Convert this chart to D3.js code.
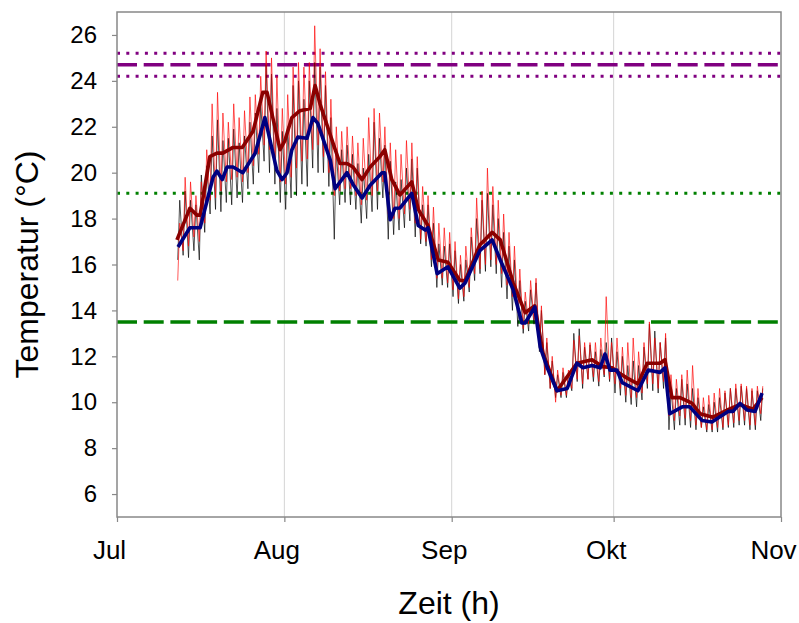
<!DOCTYPE html>
<html><head><meta charset="utf-8">
<script src="https://cdn.jsdelivr.net/npm/d3@7"></script>
<style>
body{margin:0;background:#fff;}
text{font-family:Arial,"Liberation Sans",sans-serif;fill:#000;}
</style>
</head><body>
<svg id="c" width="799" height="623"></svg>
<script>
// ---------------- data (days counted from 1 July) ----------------
const monthLabels = ["Jul","Aug","Sep","Okt","Nov"];
const monthOffsets = [0, 31, 62, 92, 123];
const yTicks = [6,8,10,12,14,16,18,20,22,24,26];

// thick blue line (mean of black series)
const blueDays = [11.3,13.5,15.4,17.8,18.5,19.5,20.4,21.5,23.3,25.6,27.4,29.6,30.6,31.5,32.4,33.5,35.2,36.3,37.2,39.5,40.4,42.6,43.7,45.4,46.9,49.1,49.6,50.6,51.5,52.4,54.6,55.8,57.1,57.6,59.3,61.3,63.5,64.5,67.2,69.5,71.0,73.4,75.0,75.6,77.4,78.4,79.7,81.5,83.4,85.2,86.3,88.0,89.5,90.4,91.3,92.6,93.6,96.5,98.4,100.6,101.5,102.4,104.7,106.1,108.4,110.2,113.2,114.1,115.4,116.7,118.2,119.5];
const blueVals = [16.76,17.6,17.6,19.8,20.07,19.7,20.25,20.25,20.0,20.85,22.4,20.1,19.7,20.0,21.0,21.55,21.5,22.4,22.15,20.55,19.3,20.0,19.5,18.9,19.45,20.0,20.0,17.95,18.45,18.46,19.1,17.7,17.5,17.6,15.6,15.9,14.97,15.2,16.6,17.07,16.2,14.9,13.45,13.45,14.15,12.4,11.5,10.5,10.6,11.7,11.5,11.6,11.5,12.1,11.4,11.4,10.85,10.5,11.4,11.3,11.5,9.5,9.8,9.8,9.2,9.14,9.6,9.6,9.95,9.66,9.6,10.4];

// thick dark red line (mean of red series)
const redDays = [11.1,13.5,14.8,15.4,17.2,18.5,19.6,21.5,23.2,25.2,27.0,27.8,30.2,31.1,32.4,33.9,35.8,36.7,37.6,40.0,41.3,42.6,43.7,45.4,46.9,48.7,49.6,50.9,52.4,54.6,55.8,57.6,59.5,61.3,63.5,64.5,67.2,69.5,71.0,73.4,75.6,77.4,78.9,81.5,85.2,88.0,90.0,91.7,92.8,94.5,96.5,98.2,100.6,101.5,102.8,104.3,106.5,108.0,110.4,113.0,115.4,117.8,119.5];
const redVals = [17.07,18.45,18.15,18.15,20.7,20.85,20.85,21.1,21.1,21.8,23.5,23.5,21.0,21.4,22.4,22.7,22.8,23.8,23.0,21.3,20.4,20.4,20.25,19.7,20.25,20.7,21.0,19.7,19.03,19.6,18.4,17.7,16.2,16.1,15.3,15.3,16.85,17.4,17.07,15.2,13.9,14.2,12.15,10.5,11.7,11.85,11.55,11.5,11.3,11.05,10.8,11.7,11.7,11.85,10.2,10.2,9.96,9.5,9.35,9.66,9.9,9.7,10.2];

// thin hourly series, daily maxima / minima from day 11 (12 July) to day 119
const firstDay = 11;
const blackMax = [18.8,19.2,18.8,18.6,19.9,20.3,21.6,22.3,21.4,21.5,21.9,21.3,21.6,22.2,22.6,23.0,24.7,24.3,22.8,21.8,22.0,23.8,24.0,23.2,24.0,24.8,24.6,23.8,22.4,21.0,21.0,21.2,20.8,20.4,20.2,20.8,22.2,21.5,21.2,20.5,19.6,19.7,20.2,20.6,20.2,18.6,18.6,17.8,16.9,16.8,16.9,16.6,16.0,16.2,17.2,18.0,18.8,19.1,18.6,18.0,17.4,16.8,16.2,15.3,14.4,14.9,15.2,14.0,12.6,11.8,11.2,11.3,11.2,13.0,13.2,12.4,12.5,12.2,12.3,12.6,12.8,12.2,12.0,11.6,11.8,11.6,12.4,13.4,13.1,12.6,12.8,10.6,10.6,11.0,10.8,10.6,10.2,9.8,9.9,10.0,10.2,10.4,10.6,10.6,10.7,10.6,10.5,10.5,10.6];
const blackMin = [16.2,16.4,16.3,16.6,16.2,17.4,18.2,18.4,18.3,18.7,18.6,18.9,18.7,19.3,19.5,20.0,20.5,20.0,19.5,18.7,18.4,18.9,19.0,19.5,19.4,20.2,20.0,20.0,19.4,17.1,18.6,18.7,18.6,18.4,17.8,18.0,18.3,18.4,18.9,17.1,17.3,17.5,17.6,17.9,17.2,16.9,16.8,15.9,15.0,15.1,15.0,14.6,14.3,14.4,14.8,15.3,15.6,15.7,15.9,15.6,15.0,14.5,14.0,13.3,13.0,13.1,13.4,12.2,11.2,10.6,10.2,10.2,10.2,10.5,10.9,10.6,11.0,10.9,10.7,11.1,10.9,10.4,10.3,10.0,9.9,9.8,10.1,10.6,10.5,10.4,10.6,8.8,8.8,9.0,9.0,8.9,8.8,8.9,8.7,8.7,8.7,8.8,8.9,8.9,9.0,9.0,8.8,8.8,9.2];
const redMax = [17.8,19.8,19.6,19.0,19.6,21.0,23.0,23.5,22.6,22.2,23.0,22.4,22.7,23.3,23.4,24.2,25.3,25.0,24.2,22.8,23.4,24.6,24.8,24.6,24.8,26.4,25.4,24.4,23.2,22.0,21.8,22.0,21.6,21.3,21.5,22.4,22.8,22.6,22.0,21.3,21.0,20.8,21.4,21.3,20.7,19.4,19.0,18.5,17.8,17.6,17.4,17.0,16.4,16.8,17.6,18.9,19.2,20.2,19.4,18.8,18.2,17.4,16.8,15.8,14.8,15.3,15.4,14.2,12.8,12.0,11.4,11.5,11.4,12.7,12.9,12.6,12.6,12.6,12.8,14.6,12.6,12.8,12.4,12.6,12.8,12.2,12.6,13.5,12.8,12.6,13.0,11.2,11.0,11.2,11.4,11.6,10.6,10.2,10.3,10.4,10.6,10.5,10.6,10.8,10.8,10.7,10.6,10.7,10.7];
const redMin = [15.3,16.6,16.8,17.2,17.0,17.8,18.8,18.9,19.2,19.6,19.7,19.8,19.6,20.0,20.3,20.8,21.2,21.0,20.3,19.6,19.5,19.8,20.2,20.5,20.6,21.0,21.2,20.7,20.0,19.0,19.2,19.3,19.3,19.0,18.6,18.8,19.0,19.2,19.6,18.2,18.0,18.0,18.2,18.4,17.8,17.1,17.0,16.2,15.4,15.4,15.2,14.9,14.5,14.6,15.0,15.6,15.8,16.0,16.2,16.0,15.6,15.1,14.6,13.9,13.2,13.4,13.6,12.4,11.2,10.6,10.0,10.3,10.3,10.6,11.0,10.8,11.0,11.1,10.9,11.2,11.0,10.8,10.6,10.3,10.2,10.2,10.4,10.8,10.8,10.6,10.9,9.4,9.2,9.4,9.3,9.2,9.0,8.9,8.8,8.8,8.9,8.9,9.0,9.1,9.2,9.2,9.0,9.0,9.5];

// reference levels
const purpleDashed = 24.7;
const purpleDotted = [25.2, 24.2];
const greenDotted = 19.1;
const greenDashed = 13.5;

// ---------------- drawing ----------------
const DAY = 86400000;
const t0 = Date.UTC(2021, 6, 1);
const toDate = d => new Date(t0 + d * DAY);

const svg = d3.select("#c");
const L = 117, R = 781, T = 12, B = 517;
const x = d3.scaleUtc().domain([toDate(0), toDate(123)]).range([L, R]);
const y = d3.scaleLinear().domain([5, 27]).range([B, T]);

svg.append("defs").append("clipPath").attr("id","clip")
  .append("rect").attr("x",L).attr("y",T).attr("width",R-L).attr("height",B-T);

// vertical gridlines
svg.append("g").selectAll("line").data(monthOffsets.slice(1, 4)).join("line")
  .attr("x1", d => x(toDate(d))).attr("x2", d => x(toDate(d)))
  .attr("y1", T).attr("y2", B)
  .attr("stroke", "#d4d4d4").attr("stroke-width", 1);

const plot = svg.append("g").attr("clip-path","url(#clip)");

// reference horizontal lines
function hline(v, color, dash, w) {
  plot.append("line").attr("x1", L).attr("x2", R)
    .attr("y1", y(v)).attr("y2", y(v))
    .attr("stroke", color).attr("stroke-width", w)
    .attr("stroke-dasharray", dash);
}
purpleDotted.forEach(v => hline(v, "#800080", "3 6.3", 3));
hline(purpleDashed, "#800080", "20 6.7", 3.5);
hline(greenDotted, "#008000", "3 6.3", 3);
hline(greenDashed, "#008000", "20 6.7", 3.5);

// thin series: alternating daily minimum (morning) and maximum (afternoon)
function thinPoints(mins, maxs) {
  const pts = [];
  mins.forEach((mn, i) => {
    pts.push([firstDay + i + 0.25, mn]);
    pts.push([firstDay + i + 0.62, maxs[i]]);
  });
  return pts;
}
const line = d3.line().x(p => x(toDate(p[0]))).y(p => y(p[1]));

plot.append("path").datum(thinPoints(blackMin, blackMax))
  .attr("d", line).attr("fill","none").attr("stroke","#000")
  .attr("stroke-width", 0.8).attr("stroke-opacity", 0.85);
plot.append("path").datum(thinPoints(redMin, redMax))
  .attr("d", line).attr("fill","none").attr("stroke","#ff0000")
  .attr("stroke-width", 1).attr("stroke-opacity", 0.65);

plot.append("path").datum(redDays.map((d,i)=>[d, redVals[i]]))
  .attr("d", line).attr("fill","none").attr("stroke","#8b0000")
  .attr("stroke-width", 3.6).attr("stroke-linejoin","round");
plot.append("path").datum(blueDays.map((d,i)=>[d, blueVals[i]]))
  .attr("d", line).attr("fill","none").attr("stroke","#000080")
  .attr("stroke-width", 3.6).attr("stroke-linejoin","round");

// frame
svg.append("rect").attr("x", L).attr("y", T).attr("width", R-L).attr("height", B-T)
  .attr("fill","none").attr("stroke","#888").attr("stroke-width",1.5);

// y axis
const ya = svg.append("g").attr("transform", `translate(${L},0)`)
  .call(d3.axisLeft(y).tickValues(yTicks).tickSize(5).tickPadding(15).tickFormat(d3.format("d")));
ya.select(".domain").remove();
ya.selectAll(".tick line").attr("stroke","#888").attr("stroke-width",1.2);
ya.selectAll(".tick text").attr("font-size", 24).attr("font-family","Arial, 'Liberation Sans', sans-serif");

// x axis
const xa = svg.append("g").attr("transform", `translate(0,${B})`)
  .call(d3.axisBottom(x).tickValues(monthOffsets.map(toDate)).tickSize(5)
    .tickFormat((d,i) => monthLabels[i]));
xa.select(".domain").remove();
xa.selectAll(".tick line").attr("stroke","#888").attr("stroke-width",1.2);
xa.selectAll(".tick text").attr("font-size", 26).attr("font-family","Arial, 'Liberation Sans', sans-serif")
  .attr("y", 42).attr("dy", 0).attr("dx", -8);

// titles
svg.append("text").attr("x", (L+R)/2).attr("y", 614).attr("text-anchor","middle")
  .attr("font-size", 32).text("Zeit (h)");
svg.append("text").attr("transform", `translate(38,${(T+B)/2}) rotate(-90)`)
  .attr("text-anchor","middle").attr("font-size", 32).text("Temperatur (°C)");
</script>
</body></html>
